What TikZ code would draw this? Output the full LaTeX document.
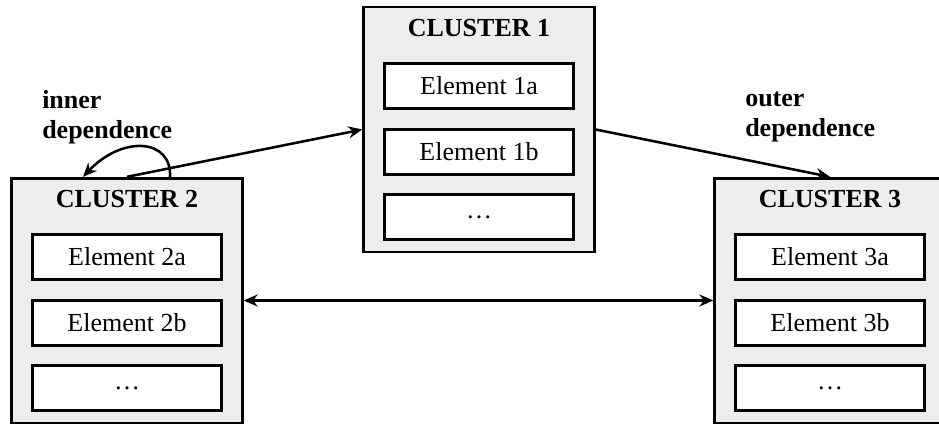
\documentclass[tikz,border=0pt]{standalone}
\usepackage{fontspec}
\setmainfont{Liberation Serif}
\usetikzlibrary{arrows.meta,calc}
\newcommand{\bigfont}{\fontsize{19.5}{22.5}\selectfont}
\tikzset{
    cluster/.style={draw, line width=2pt, fill=black!7, minimum width=173pt, minimum height=183.5pt},
    title/.style={font=\bigfont\bfseries},
    elem/.style={draw, line width=1.8pt, fill=white, minimum width=141.5pt, minimum height=33.5pt},
    lbl/.style={font=\bigfont\bfseries, align=left, inner sep=0pt},
    arr/.style={line width=1.9pt, -{Stealth[length=10.5pt,width=9pt]}}
}

\begin{document}
\begin{tikzpicture}[x=0.75pt,y=-0.75pt,font=\bigfont]
        \useasboundingbox (0,0) rectangle (939,428);
        \foreach \k/\x/\y in {1/479/129.5, 2/127/300.5, 3/830/300.5} {
            \node[cluster] (c\k) at (\x,\y) {};
            \node[title] (t\k) at (\x,\y-101.5) {CLUSTER \k};
            \node[elem] (e\k a) at (\x,\y-43.5) {Element \k a};
            \node[elem] (e\k b) at (\x,\y+22.5) {Element \k b};
            \node[elem] (e\k c) at (\x,\y+87.5) {…};
        }
        \node[lbl, anchor=west] (inner) at (42,117) {inner\\dependence};
        \node[lbl, anchor=west] (outer) at (745,117) {outer\\dependence};
        \draw[arr] (c2.north) -- (c1.west);
        \draw[arr] (c1.east) -- (c3.north);
        \draw[arr, {Stealth[length=10.5pt,width=9pt]}-{Stealth[length=10.5pt,width=9pt]}] (c2.east) -- (c3.west);
        % loop for inner dependence
        \coordinate (loopS) at ($(c2.north)+(43,0)$);
        \coordinate (loopE) at ($(c2.north)+(-44,0)$);
        \draw[arr] (loopS) .. controls ($(loopS)+(2,-38)$) and ($(loopE)+(40,-42)$) .. (loopE);
    \end{tikzpicture}
\end{document}
